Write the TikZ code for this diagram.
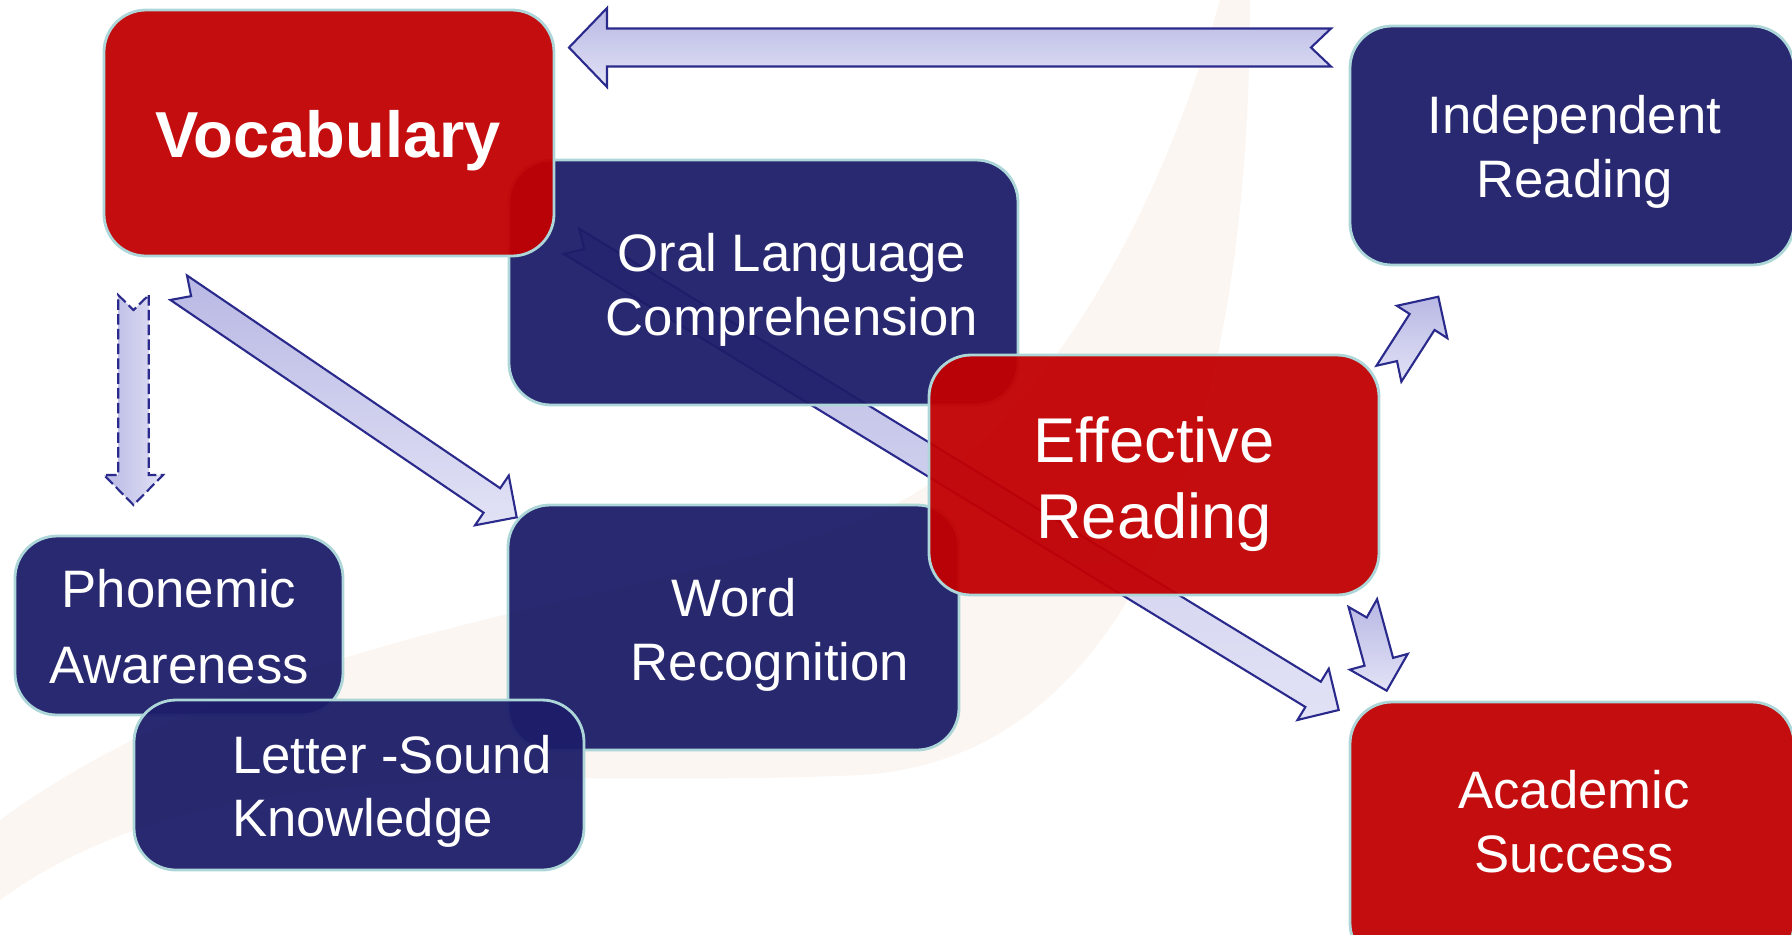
\documentclass[tikz,border=0pt]{standalone}
\usepackage{fontspec}
\setmainfont{Liberation Sans}
\usetikzlibrary{calc}

\definecolor{boxred}{RGB}{193,0,2}
\definecolor{boxblue}{RGB}{29,29,105}
\definecolor{boxline}{RGB}{172,214,216}
\definecolor{arrowline}{RGB}{42,42,140}
\definecolor{arrowdark}{RGB}{184,184,228}
\definecolor{arrowlight}{RGB}{226,226,246}
\definecolor{swoosh}{RGB}{252,246,242}

\tikzset{
	shaft half/.store in = \shaftw,
	head half/.store in = \headw,
	head len/.store in = \headl,
	notch len/.store in = \notchd,
	fatarrow/.style = {draw = arrowline, line width = 0.6pt, top color = arrowdark, bottom color = arrowlight,
		shaft half = 0.148cm, head half = 0.30cm, head len = 0.30cm, notch len = 0.15cm},
	box/.style = {draw = boxline, line width = 0.8pt, rounded corners = 0.42cm, fill opacity = 0.95, inner sep = 0pt},
	redbox/.style = {box, fill = boxred},
	bluebox/.style = {box, fill = boxblue},
	boxtext/.style = {text = white, inner sep = 0pt, align = center, font = \fontsize{15}{18.2}\selectfont}
}

% notched block arrow from tail #2 to tip #3
\newcommand{\fatarrow}[3][]{%
	\draw [fatarrow, #1] ($(#2)!\shaftw!90:(#3)$) -- ($(#3)!\headl!(#2)!\shaftw!-90:(#2)$) -- ($(#3)!\headl!(#2)!\headw!-90:(#2)$) -- (#3) -- ($(#3)!\headl!(#2)!\headw!90:(#2)$) -- ($(#3)!\headl!(#2)!\shaftw!90:(#2)$) -- ($(#2)!\shaftw!-90:(#3)$) -- ($(#2)!\notchd!(#3)$) -- cycle;
}

\begin{document}
\begin{tikzpicture}

\useasboundingbox (0, 0) rectangle (17.92, -9.34);
\clip (0, 0) rectangle (17.92, -9.34);

% Faint swoosh in the background

\fill [swoosh] (12.5, 0) .. controls (12.5, -4.6) and (11.2, -7.6) .. (8.6, -7.75) .. controls (5.5, -7.9) and (2.2, -7.4) .. (0, -9.0) -- (0, -8.2) .. controls (3.0, -6.0) and (7.5, -6.0) .. (9.2, -4.9) .. controls (10.3, -4.2) and (11.5, -2.5) .. (12.2, 0) -- cycle;

% Arrow ends

\coordinate (top-tail) at (13.31, -0.475);
\coordinate (top-tip) at (5.69, -0.475);
\coordinate (down-tail) at (1.335, -2.95);
\coordinate (down-tip) at (1.335, -5.05);
\coordinate (diag-tail) at (1.787, -2.877);
\coordinate (diag-tip) at (5.167, -5.173);
\coordinate (long-tail) at (5.715, -2.413);
\coordinate (long-tip) at (13.387, -7.10);
\coordinate (up-tail) at (13.889, -3.737);
\coordinate (up-tip) at (14.383, -2.967);
\coordinate (low-tail) at (13.628, -6.03);
\coordinate (low-tip) at (13.867, -6.907);

% Long arrow, under the boxes

\fatarrow{long-tail}{long-tip}

% Boxes

\node [bluebox, minimum width = 5.09cm, minimum height = 2.45cm] (oral) at (7.635, -2.825) {};
\node [redbox, minimum width = 4.50cm, minimum height = 2.46cm] (voc) at (3.29, -1.33) {};
\node [bluebox, minimum width = 4.51cm, minimum height = 2.45cm] (word) at (7.335, -6.275) {};
\node [redbox, minimum width = 4.50cm, minimum height = 2.40cm] (eff) at (11.54, -4.75) {};
\node [bluebox, minimum width = 3.28cm, minimum height = 1.79cm] (phon) at (1.79, -6.255) {};
\node [bluebox, minimum width = 4.50cm, minimum height = 1.70cm] (letter) at (3.59, -7.85) {};
\node [bluebox, minimum width = 4.44cm, minimum height = 2.39cm] (indep) at (15.72, -1.455) {};
\node [redbox, minimum width = 4.44cm, minimum height = 2.63cm] (acad) at (15.72, -8.335) {};

% Box texts (base = last line)

\node [boxtext, anchor = base, font = \fontsize{18.5}{22}\selectfont\bfseries] (voc-text) at (3.28, -1.57) {Vocabulary};
\node [boxtext, anchor = base] (oral-text) at (7.92, -3.35) {Oral Language\\Comprehension};
\node [boxtext, anchor = base] (indep-text) at (15.745, -1.97) {Independent\\Reading};
\node [boxtext, anchor = base, font = \fontsize{18}{21.6}\selectfont] (eff-text) at (11.54, -5.38) {Effective\\Reading};
\node [boxtext, anchor = base, font = \fontsize{15}{18.4}\selectfont] (word-text) at (7.70, -6.807) {Word\hspace*{0.72cm}\\Recognition};
\node [boxtext, anchor = base, font = \fontsize{15}{21.6}\selectfont] (phon-text) at (1.79, -6.833) {Phonemic\\Awareness};
\node [boxtext, anchor = base west, align = left, font = \fontsize{15}{18}\selectfont] (letter-text) at (2.313, -8.367) {Letter -Sound\\Knowledge};
\node [boxtext, anchor = base] (acad-text) at (15.74, -8.727) {Academic\\Success};

% Block arrows

\fatarrow[shaft half = 0.19cm, head half = 0.395cm, head len = 0.38cm, notch len = 0.20cm]{top-tail}{top-tip}
\fatarrow[dash pattern = on 3pt off 1.2pt, left color = arrowdark, right color = arrowlight, shaft half = 0.153cm, head half = 0.295cm]{down-tail}{down-tip}
\fatarrow{diag-tail}{diag-tip}
\fatarrow{up-tail}{up-tip}
\fatarrow{low-tail}{low-tip}

\end{tikzpicture}
\end{document}
